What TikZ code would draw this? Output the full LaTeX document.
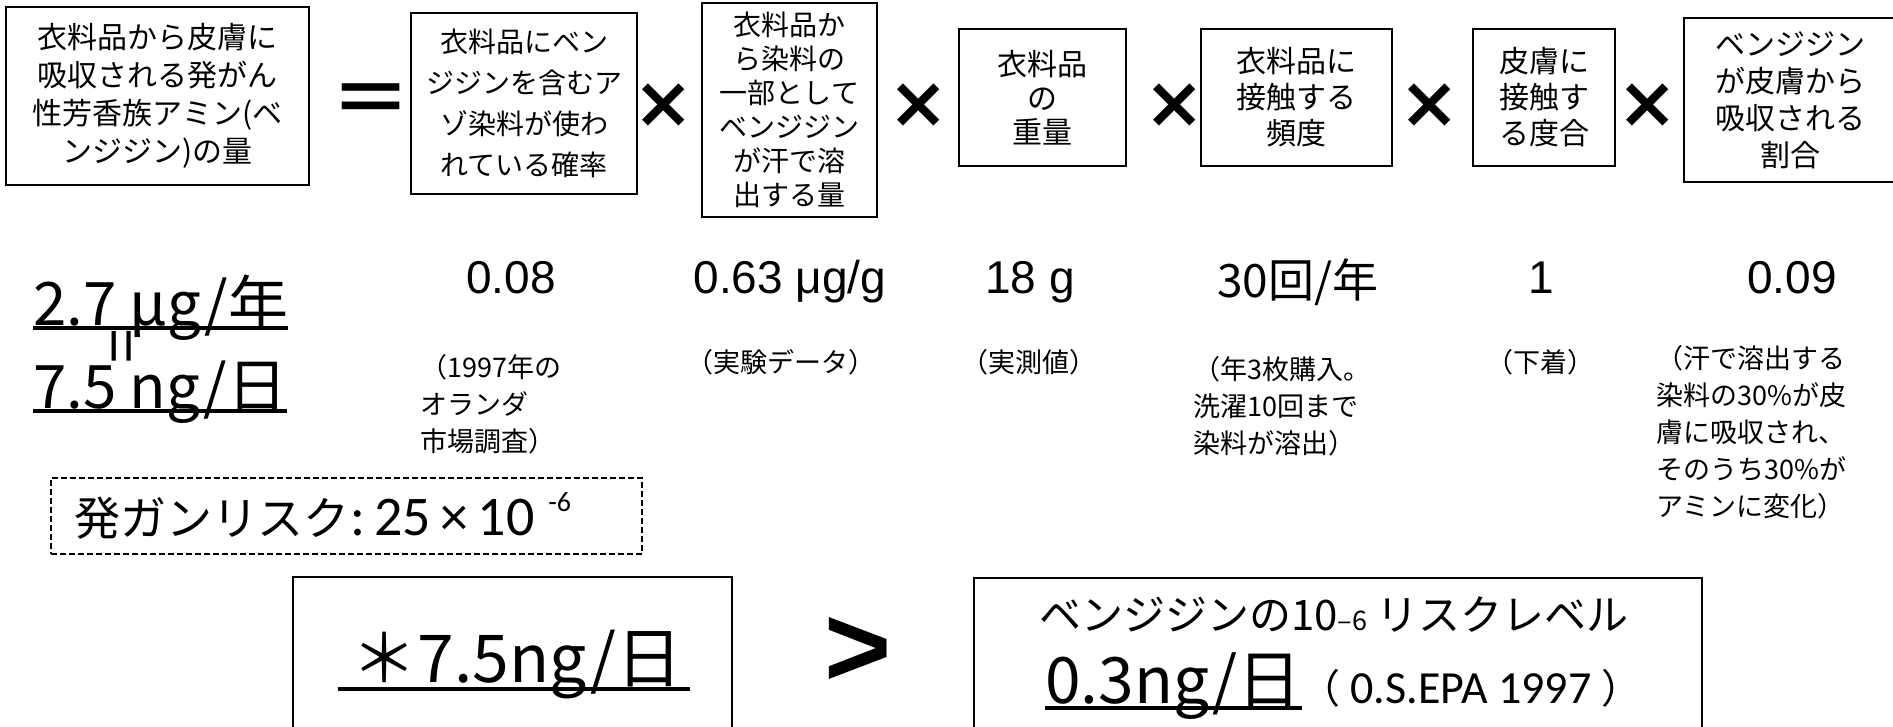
\documentclass[tikz,border=0pt]{standalone}
\usepackage{fontspec}
\setmainfont{Noto Sans CJK JP}
\newfontfamily\arialfont{Liberation Sans}
\newfontfamily\calibrifont{Carlito}
\newfontfamily\dejavufont{DejaVu Sans}
\usetikzlibrary{calc}
\newcommand{\setfs}[2]{\fontsize{#1}{#2}\selectfont}

\begin{document}
\begin{tikzpicture}[x=1pt, y=-1pt,
  termbox/.style={draw, line width=2pt, align=center, inner sep=0pt},
  mult/.style={inner sep=0pt, font=\dejavufont\bfseries\setfs{72}{72}},
  val/.style={anchor=base, inner sep=0pt, font=\arialfont\setfs{46}{46}},
  note/.style={inner sep=0pt, align=left, font=\setfs{27}{37}},
  bigval/.style={anchor=base west, inner sep=0pt, font=\setfs{60}{60}},
  uline/.style={line width=4pt},
  result/.style={draw, line width=2pt, inner sep=0pt}]

  \useasboundingbox (0,0) rectangle (1893,726);

  % factors of the formula
  \node[termbox, minimum width=303pt, minimum height=178pt, font=\setfs{30}{38}] (amount) at (157.5,96)
    {衣料品から皮膚に\\吸収される発がん\\性芳香族アミン(ベ\\ンジジン)の量};
  \node[inner sep=0pt, font=\dejavufont\setfs{92}{92}] (eq) at (371,105) {=};
  \node[termbox, minimum width=226pt, minimum height=181pt, font=\setfs{28}{41}] (prob) at (524,103.5)
    {衣料品にベン\\ジジンを含むア\\ゾ染料が使わ\\れている確率};
  \node[termbox, minimum width=175pt, minimum height=214pt, font=\setfs{28}{34}] (dye) at (789.5,110)
    {衣料品か\\ら染料の\\一部として\\ベンジジン\\が汗で溶\\出する量};
  \node[termbox, minimum width=167pt, minimum height=137pt, font=\setfs{30}{34}] (weight) at (1042.5,97.5)
    {衣料品\\の\\重量};
  \node[termbox, minimum width=191pt, minimum height=137pt, font=\setfs{30}{36}] (freq) at (1296.5,97.5)
    {衣料品に\\接触する\\頻度};
  \node[termbox, minimum width=142pt, minimum height=137pt, font=\setfs{30}{36}] (contact) at (1544,97.5)
    {皮膚に\\接触す\\る度合};
  \node[termbox, minimum width=212pt, minimum height=164pt, font=\setfs{30}{37}] (absorb) at (1790,100)
    {ベンジジン\\が皮膚から\\吸収される\\割合};

  \foreach \x [count=\i] in {664, 919, 1175, 1430, 1648} {
    \node[mult] (m\i) at (\x,106) {×};
  }

  % values
  \node[val] (vprob) at (511,293) {0.08};
  \node[val] (vdye) at (790,293) {0.63 μg/g};
  \node[val] (vweight) at (1030,293) {18 g};
  \node[val, font=\setfs{46}{46}] (vfreq) at (1298,297) {30回/年};
  \node[val] (vcontact) at (1541,293) {1};
  \node[val] (vabsorb) at (1792,293) {0.09};

  % sources
  \node[note, anchor=north west] (nprob) at (420,354) {（1997年の\\オランダ\\市場調査）};
  \node[note] (ndye) at (781,362) {（実験データ）};
  \node[note] (nweight) at (1029,362) {（実測値）};
  \node[note, anchor=north west] (nfreq) at (1193,356) {（年3枚購入。\\洗濯10回まで\\染料が溶出）};
  \node[note] (ncontact) at (1540,362) {（下着）};
  \node[note, anchor=north west] (nabsorb) at (1656,345)
    {（汗で溶出する\\染料の30\%が皮\\膚に吸収され、\\そのうち30\%が\\アミンに変化）};

  % result
  \node[bigval] (peryear) at (33,325) {2.7 μg/年};
  \node[inner sep=0pt, rotate=90, font=\setfs{62}{62}] (same) at (128,346) {=};
  \node[bigval] (perday) at (33,408) {7.5 ng/日};
  \draw[uline] ([yshift=-3pt]peryear.base west) -- ([yshift=-3pt]peryear.base east);
  \draw[uline] ([yshift=-3pt]perday.base west) -- ([yshift=-3pt]perday.base east);

  \node[draw, line width=1.5pt, dash pattern=on 6pt off 3pt, minimum width=591pt, minimum height=76pt,
    inner sep=0pt, text width=545pt, align=left] (risk) at (346.5,516)
    {{\setfs{46}{46}発ガンリスク}{\calibrifont\setfs{56}{56}:\,25\,×\,10\hspace{14pt}\raisebox{24pt}{\setfs{28}{28}-6}}};

  % comparison
  \node[result, minimum width=439pt, minimum height=170pt] (ours) at (512.5,662) {};
  \node[bigval, anchor=base, font=\setfs{66}{66}] (oursval) at (517,682) {＊7.5ng/日};
  \draw[uline] ([xshift=-14pt, yshift=-7pt]oursval.base west) -- ([xshift=8pt, yshift=-7pt]oursval.base east);

  \node[inner sep=0pt, font=\arialfont\bfseries\setfs{115}{115}] (gt) at (858,652) {>};

  \node[result, minimum width=728pt, minimum height=170pt] (epa) at (1338,663) {};
  \node[anchor=base, inner sep=0pt, font=\setfs{42}{42}] (epahead) at (1334,630)
    {ベンジジンの10{\setfs{27}{27}–6} リスクレベル};
  \node[bigval, font=\setfs{64}{64}] (epaval) at (1045,703) {0.3ng/日};
  \draw[uline] ([yshift=-5pt]epaval.base west) -- ([yshift=-5pt]epaval.base east);
  \node[anchor=base west, inner sep=0pt, font=\setfs{40}{40}] (epasrc) at (1300,703)
    {（{\calibrifont\setfs{46}{46}\ 0.S.EPA 1997\ }）};

\end{tikzpicture}
\end{document}
